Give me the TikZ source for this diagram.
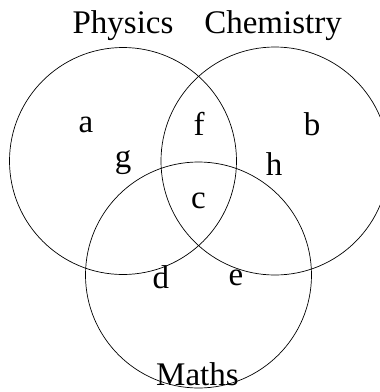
\documentclass[tikz,border=0pt]{standalone}
\usepackage{fontspec}
\setmainfont{Liberation Serif}
\usepackage{tikz}
\usetikzlibrary{positioning}
\tikzset{
  subject/.style={
    circle, draw=black, line width=0.7pt, inner sep=0pt
  },
  region/.style={inner sep=0pt, font=\fontsize{33}{38}\selectfont},
  title/.style={region, anchor=base},
}

\begin{document}
\begin{tikzpicture}[x=1pt, y=-1pt]
  \useasboundingbox (0,0) rectangle (380,392);

  % the three sets
  \node[subject, minimum size=227pt] (phys) at (123,161) {};
  \node[subject, minimum size=228pt] (chem) at (275,161) {};
  \node[subject, minimum size=226pt] (math) at (198.5,275) {};

  % set names
  \node[title] (physname) at (123,33) {Physics};
  \node[title] (chemname) at (273,33) {Chemistry};
  \node[title] (mathname) at (197.5,385) {Maths};

  % regions
  \node[region] (a) at (86,124.5) {a};
  \node[region] (f) at (199,124) {f};
  \node[region] (b) at (312,124) {b};
  \node[region] (g) at (123,163) {g};
  \node[region] (h) at (274,164) {h};
  \node[region] (c) at (198.5,200.5) {c};
  \node[region] (d) at (161,277) {d};
  \node[region] (e) at (236,278) {e};
\end{tikzpicture}
\end{document}
